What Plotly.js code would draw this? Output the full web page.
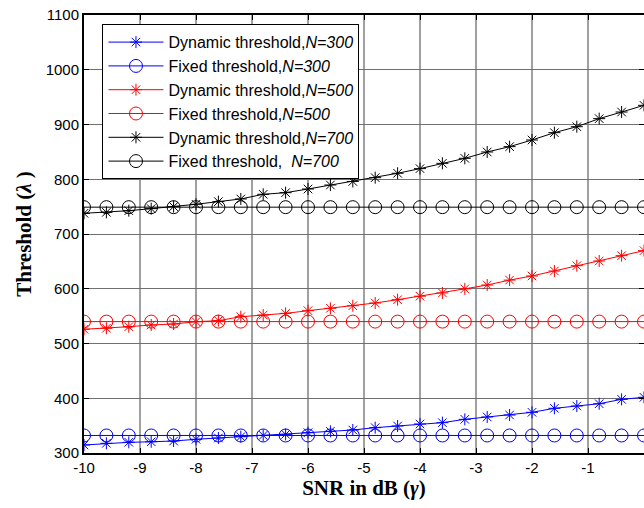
<!DOCTYPE html>
<html>
<head>
<meta charset="utf-8">
<script src="https://cdn.plot.ly/plotly-3.0.1.min.js"></script>
<style>html,body{margin:0;padding:0;background:#fff;}#chart{width:644px;height:508px;}</style>
</head>
<body>
<div id="chart"></div>
<script>
const snr = [-10,-9.6,-9.2,-8.8,-8.4,-8,-7.6,-7.2,-6.8,-6.4,-6,-5.6,-5.2,-4.8,-4.4,-4,-3.6,-3.2,-2.8,-2.4,-2,-1.6,-1.2,-0.8,-0.4,0];
const dyn300 = [314.6,317.7,319.5,320.5,321.9,325,327.4,329.8,332.2,334,337,339.6,342,346.3,349.3,353,355.4,361.5,365.8,369.4,374.3,381.6,385.8,390,398,401.7];
const fix300 = [332,332,332,332,332,332,332,332,332,332,332,332,332,332,332,332,332,332,332,332,332,332,332,332,332,332];
const dyn500 = [526,527.8,530.7,533.8,535.6,539.8,541.7,548.9,552,555,559.9,564.3,569,574,580,586.4,592.4,599.8,606.8,615.8,623.3,632.4,642.1,650.7,660.4,669.6];
const fix500 = [540,540,540,540,540,540,540,540,540,540,540,540,540,540,540,540,540,540,540,540,540,540,540,540,540,540];
const dyn700 = [737.8,739.6,742.6,746.3,750,754.3,759.1,764,772.5,775.5,782.2,789.5,796,802.9,810.9,819.4,829.1,838.2,849.8,859.5,871.7,885.1,896,910.7,922.8,935];
const fix700 = [749,749,749,749,749,749,749,749,749,749,749,749,749,749,749,749,749,749,749,749,749,749,749,749,749,749];
const names = ['Dynamic threshold,<i>N=300</i>','Fixed threshold,<i>N=300</i>','Dynamic threshold,<i>N=500</i>','Fixed threshold,<i>N=500</i>','Dynamic threshold,<i>N=700</i>','Fixed threshold,&nbsp;&nbsp;<i>N=700</i>'];
const xTicks = [-10,-9,-8,-7,-6,-5,-4,-3,-2,-1];
const yTicks = [300,400,500,600,700,800,900,1000,1100];

const series = [dyn300, fix300, dyn500, fix500, dyn700, fix700];
const colors = ['#0000ff','#0000ff','#ff0000','#ff0000','#000000','#000000'];
const traces = series.map((s,i)=>{
  const star = i%2===0;
  return {
    x: snr, y: s, name: names[i], type:'scatter', mode:'lines+markers',
    line:{color:colors[i], width:1},
    marker: star ? {symbol:'asterisk-open', size:10, color:colors[i], line:{color:colors[i], width:1}}
                 : {symbol:'circle-open', size:13, color:colors[i], line:{color:colors[i], width:1}}
  };
});

const layout = {
  width:644, height:508,
  margin:{l:84, r:0, t:15, b:55},
  paper_bgcolor:'#fff', plot_bgcolor:'#fff',
  font:{family:'Liberation Sans, Arial, sans-serif', size:15, color:'#000'},
  showlegend:true,
  legend:{x:0.033, y:0.979, xanchor:'left', yanchor:'top', bgcolor:'#fff', bordercolor:'#000', borderwidth:1,
          itemwidth:55,
          font:{family:'Liberation Sans, Arial, sans-serif', size:16, color:'#000'}},
  xaxis:{range:[-10,0], tickvals:xTicks, ticktext:xTicks.map(String), showgrid:true, gridcolor:'#a0a0a0', gridwidth:1.5,
         zeroline:false, showline:true, linecolor:'#000', linewidth:2, mirror:'ticks', ticks:'inside', ticklen:5, tickcolor:'#000',
         tickfont:{size:15},
         title:{text:'<b>SNR in dB (<i>γ</i>)</b>', font:{family:'Liberation Serif, Times New Roman, serif', size:21}, standoff:5}},
  yaxis:{range:[300,1100], tickvals:yTicks, showgrid:true, gridcolor:'#707070', gridwidth:1,
         zeroline:false, showline:true, linecolor:'#000', linewidth:2, mirror:'ticks', ticks:'inside', ticklen:5, tickcolor:'#000',
         tickfont:{size:15},
         title:{text:'<b>Threshold (<i>λ</i> )</b>', font:{family:'Liberation Serif, Times New Roman, serif', size:21}, standoff:8}}
};
Plotly.newPlot('chart', traces, layout, {displayModeBar:false, staticPlot:true});
</script>
</body>
</html>
